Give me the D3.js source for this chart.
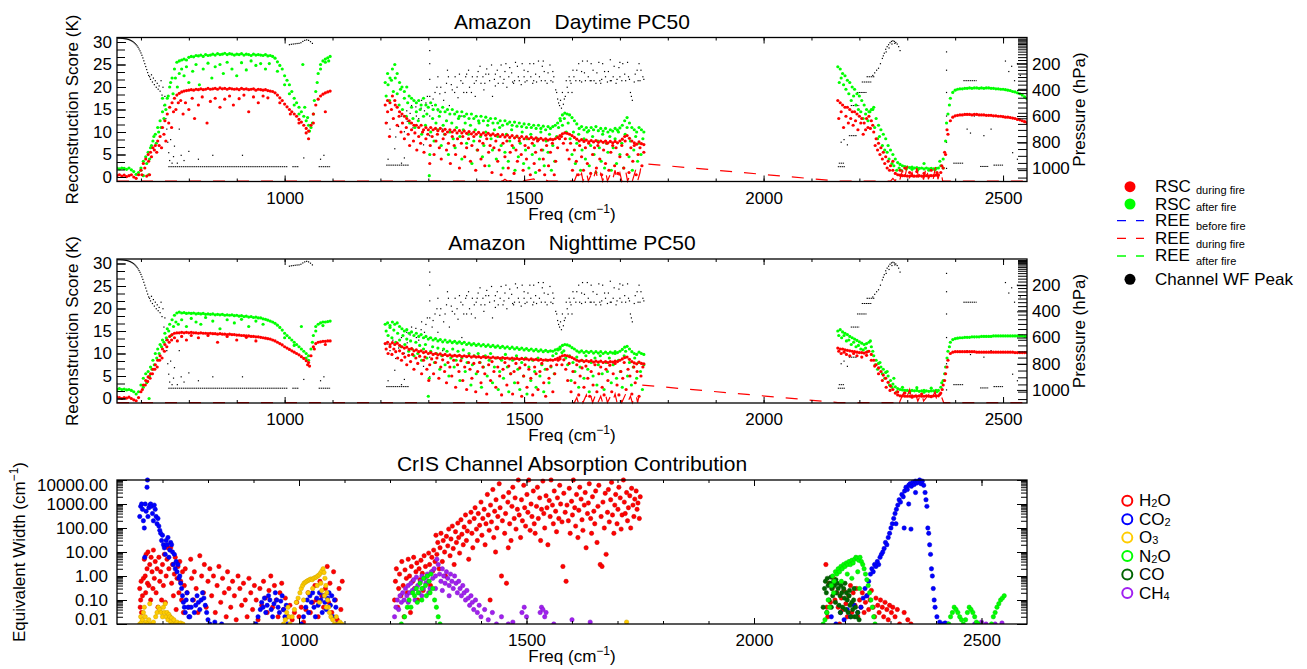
<!DOCTYPE html>
<html lang='en'>
<head>
<meta charset='UTF-8'>
<title>Amazon PC50 reconstruction</title>
<style>
  * { margin: 0; padding: 0; }
  body { background: #fff; }
  #chart { width: 1307px; height: 669px; }
  text { font-family: 'Liberation Sans', Arial, Helvetica, sans-serif; }
</style>
</head>
<body>
<div id='chart'></div>
<script src='https://cdn.jsdelivr.net/npm/d3@7'></script>
<script>
// ---- data: spectra on a 5 cm-1 grid per band ----
const bandStart = [650, 1210, 2155]
const gridStep = 5

const dayAfterLW = [2,1.8,2,1.9,1.7,2,1.6,1.2,0.6,1,
  2,3.5,4.5,5.5,6.5,8,9.5,11,12.5,14.5,
  16,17.5,20,22,24,25.5,25.8,26,26.2,26,
  26.6,26.8,26.7,27,26.9,27.1,26.8,27.2,27,27.1,
  27.3,27.1,27.4,27.2,27.3,27.5,27.2,27.4,27.3,27.1,
  27.3,27.2,27.4,27.1,27.3,27.2,27,27.3,27.1,27.2,
  27.1,27,27.2,26.9,27,26.8,26.4,25.6,24.8,24,
  22.5,21.5,20.5,19,17.5,16.5,15.5,14.5,13.5,12.5,
  11.5,11,14,19,23,25,25.8,26.2,26.5,26.8]
const dayAfterMW = [21,23,22,24,25,23,21,20,19,20,
  18,17.5,17,16.5,17,16,17.5,16,15.5,16.5,
  15,16,15,14.5,15.5,14.5,15,14,15,14,
  14.5,13.5,14.5,13.5,14,13,14,13,13.5,12.5,
  13.5,12.5,13.3,12.5,13,12,13,12,12.5,11.5,
  12.5,11.8,12.2,11.5,12.2,11.3,12,11.2,11.8,11,
  11.7,11,11.5,10.8,11.5,10.8,11.3,10.5,11.2,10.8,
  11.2,11.5,12,13,13.8,14.2,14,13.8,13.2,12.5,
  11.8,10.8,11.2,10.5,11,10.3,11,10.5,11.2,10.3,
  10.8,10.2,10.8,10,10.5,10.2,10.8,10.4,10.9,11.5,
  12.5,13.2,12,11,10.5,10,11,10.5,10]
const dayAfterSW = [24.5,24,23,22.5,21.5,21,20,19.5,18.5,18,
  17,16,15,14.5,15,15.5,13,11.5,10.5,9.5,
  8.5,7,6,5,4,3.2,2.8,2.5,2.3,2.2,
  2.1,2.2,2,2.1,1.9,2,1.8,2,1.8,1.9,
  1.8,1.9,2,2.5,4,8,14,17.5,18.8,19.3,
  19.5,19.6,19.6,19.7,19.7,19.8,19.7,19.8,19.8,19.7,
  19.8,19.7,19.8,19.8,19.7,19.7,19.6,19.6,19.5,19.5,
  19.4,19.3,19.2,19,18.9,18.7,18.5,18.2,17.8,17.4]
const dayDuringLW = [0.3,0.5,0.2,0.4,0.1,0.3,0.5,0,-0.3,0.5,
  1.5,3,4,5,5.5,6.5,7,8,9,11,
  12.5,14,15.5,16.5,17.5,18.2,18.6,18.9,19.1,19.2,
  19.3,19.4,19.3,19.5,19.4,19.6,19.4,19.5,19.7,19.5,
  19.6,19.7,19.5,19.8,19.6,19.7,19.5,19.7,19.6,19.5,
  19.6,19.4,19.7,19.5,19.6,19.4,19.5,19.6,19.3,19.5,
  19.4,19.3,19.4,19.2,19.1,19,18.7,18.2,17.6,17,
  16.2,15.6,15,14.5,14,13.5,12.8,12.2,11.5,10.8,
  10.2,11.5,14,16,17.3,18,18.4,18.7,18.9,19.1]
const dayDuringMW = [16,17,16.5,18,17,15.5,14.5,14,13.5,13,
  12.5,12,11.5,11.5,11,11.5,10.5,11,10.5,11,
  10.5,10.8,10.3,10.8,10.2,10.6,10,10.5,10,10.4,
  9.8,10.3,9.8,10.2,9.7,10.1,9.6,10,9.5,9.9,
  9.4,9.8,9.3,9.7,9.3,9.6,9.2,9.5,9,9.4,
  8.9,9.3,8.8,9.2,8.7,9.1,8.6,9,8.5,8.9,
  8.5,8.8,8.4,8.7,8.3,8.6,8.2,8.5,8.2,8.4,
  8.3,8.5,8.8,9.2,9.6,9.8,9.7,9.5,9.2,8.8,
  8.4,8,8.3,7.9,8.2,7.8,8.1,7.8,8.1,7.7,
  8,7.7,8,7.6,7.9,7.6,7.9,7.6,8,8.4,
  9,9.2,8.6,8,7.6,7.3,7.8,7.4,7.2]
const dayDuringSW = [17,16.5,16,15.5,15.5,15,14.5,14.5,14,13.5,
  13,12,13,13.5,12.5,10,8.5,7.5,6.5,5.5,
  4.5,3.5,2.5,1.5,0.8,0.5,0.4,0.3,0.3,0.2,
  0.2,0.3,0.2,0.2,0.3,0.2,0.2,0.3,0.2,0.3,
  0.3,0.4,0.5,1,2,5,9.5,12.5,13.3,13.6,
  13.7,13.8,13.8,13.9,13.9,13.9,13.8,13.9,13.9,13.8,
  13.8,13.8,13.7,13.7,13.7,13.6,13.6,13.5,13.5,13.4,
  13.3,13.3,13.2,13.1,13,12.8,12.7,12.5,12.3,12.1]

const nightAfterLW = [2,2.2,2,2.1,1.9,2,1.8,1.5,1,1.5,
  3,4.5,5.5,6,7,8.5,10,11,12,13,
  14.5,15.5,16.5,17.5,18.5,19,19.2,19,19.1,18.9,
  19,18.9,19,18.8,18.9,18.8,18.9,18.7,18.8,18.7,
  18.8,18.6,18.7,18.6,18.7,18.5,18.6,18.5,18.6,18.4,
  18.5,18.3,18.4,18.2,18.3,18.1,18.2,18,18.1,17.9,
  17.9,17.7,17.6,17.4,17.2,17,16.7,16.3,15.8,15.2,
  14.5,14,13.5,13,12.5,12,11.5,11,10.5,10,
  9.5,11,14,16,16.5,16.8,17,17,17.1,17.2]
const nightAfterMW = [16.5,16.8,16.2,17,16.5,16.8,16,15.5,15,15.3,
  14.5,14.8,14,14.5,13.8,14.2,13.5,13.8,13.2,13.5,
  13,13.3,12.8,13.1,12.6,13,12.5,12.8,12.4,12.7,
  12.3,12.6,12.2,12.5,12,12.3,11.9,12.2,11.8,12.1,
  11.7,12,11.6,11.9,11.5,11.8,11.4,11.7,11.3,11.6,
  11.2,11.5,11.1,11.4,11,11.3,10.9,11.2,10.8,11.1,
  10.7,11,10.6,10.9,10.5,10.8,10.4,10.7,10.4,10.6,
  10.5,10.8,11,11.4,11.8,12,11.9,11.7,11.3,11,
  10.6,10.3,10.6,10.2,10.5,10.2,10.5,10.1,10.4,10.1,
  10.4,10,10.3,10,10.3,10.1,10.4,10.2,10.5,10.9,
  11.4,11.6,11,10.4,10,9.8,10.3,10,9.8]
const nightAfterSW = [15,15.3,14.8,14.5,14.2,13.8,13.5,13.2,12.9,12.6,
  12.3,12,12.2,12.5,11.5,9.5,8.5,7.8,7,6.5,
  5.8,5,4,3.2,2.6,2.2,2,1.9,1.8,1.8,
  1.7,1.8,1.7,1.8,1.6,1.7,1.8,1.7,1.6,1.7,
  1.7,1.8,1.8,2.5,4,7,10.5,12.5,13.1,13.3,
  13.4,13.5,13.5,13.6,13.6,13.6,13.7,13.7,13.7,13.7,
  13.8,13.8,13.8,13.8,13.8,13.9,13.9,13.9,13.9,13.9,
  13.9,13.9,13.9,13.9,13.9,13.9,13.9,13.9,13.8,13.8]
const nightDuringLW = [0.3,0.2,0,0.2,0.1,0.3,0,-0.3,-0.5,0.2,
  1.5,3,4,4.8,5.5,6.5,7.5,8.5,9.5,11,
  12,13,13.8,14.2,14.5,14.6,14.6,14.7,14.6,14.7,
  14.6,14.7,14.6,14.6,14.5,14.6,14.5,14.5,14.4,14.5,
  14.4,14.4,14.3,14.4,14.3,14.3,14.2,14.3,14.2,14.2,
  14.1,14.1,14,14,13.9,13.9,13.8,13.8,13.7,13.7,
  13.6,13.5,13.4,13.3,13.2,13,12.8,12.5,12.2,11.9,
  11.5,11.2,10.9,10.6,10.3,10,9.7,9.3,8.9,8.4,
  8,9.5,11.5,12.2,12.5,12.6,12.7,12.7,12.8,12.8]
const nightDuringMW = [12.2,12.5,12,12.4,12,12.3,11.8,11.5,11.2,11.4,
  10.9,11.1,10.6,10.8,10.4,10.6,10.2,10.4,10,10.2,
  9.8,10,9.7,9.9,9.6,9.8,9.5,9.7,9.4,9.6,
  9.4,9.6,9.3,9.5,9.3,9.5,9.2,9.4,9.2,9.3,
  9.1,9.3,9.1,9.2,9,9.2,9,9.1,8.9,9.1,
  8.9,9,8.8,9,8.8,8.9,8.7,8.9,8.7,8.8,
  8.6,8.8,8.6,8.7,8.5,8.7,8.5,8.6,8.5,8.6,
  8.5,8.7,8.9,9.2,9.5,9.6,9.5,9.3,9.1,8.8,
  8.5,8.3,8.5,8.2,8.4,8.2,8.4,8.1,8.3,8.1,
  8.3,8,8.2,8,8.2,8.1,8.3,8.2,8.5,8.8,
  9.1,9.2,8.7,8.2,7.9,7.7,8.1,7.8,7.7]
const nightDuringSW = [11.2,11,11,10.8,10.7,10.6,10.5,10.4,10.3,10.2,
  10.2,10.1,10.3,10.5,9.8,8.5,7.5,6.8,6,5.2,
  4.5,3.6,2.8,2,1.2,0.8,0.6,0.6,0.5,0.5,
  0.5,0.6,0.5,0.5,0.6,0.5,0.5,0.6,0.5,0.5,
  0.6,0.6,0.6,1.2,3,5.5,8.5,10,10.3,10.4,
  10.4,10.4,10.4,10.4,10.4,10.4,10.4,10.4,10.3,10.3,
  10.3,10.3,10.3,10.3,10.3,10.3,10.3,10.3,10.3,10.3,
  10.3,10.3,10.3,10.3,10.2,10.2,10.2,10.2,10.2,10.2]

// ---- data: scattered channels below the main curves [freq, K] ----
const dayAfterScatter = [[700,1.5],[705,0.3],[712,3],[716,0.5],[718,4],[722,7],[727,9],[732,7.5],[737,10],[742,11],[745,17.5],[748,13],[752,15],[757,18],[762,21],[767,18.5],[772,22],[776,20],[780,23],[785,24],[790,22.5],[795,24.5],[800,21],[808,23.5],[815,25],[822,20.5],[830,24],[840,25.3],[848,22],[855,24.5],[865,25],[872,23],[880,25.5],[890,24],[900,22.5],[910,25.4],[920,23.8],[930,25.8],[940,24.8],[950,25.2],[960,24],[968,25.2],[985,23.5],[1000,20.5],[1010,18.5],[1020,16],[1030,14],[1038,25],[1042,15.5],[1048,13.2],[1052,10.2],[1058,12],[1062,17],[1068,21],[1075,24],[1085,25.5],[1092,25.8],
  [1212,18],[1216,20.5],[1219,17],[1223,21.5],[1227,19],[1231,22],[1235,18.5],[1239,16],[1242,19.5],[1246,15],[1250,17.5],[1254,13.5],[1257,16.5],[1261,12],[1265,15.5],[1268,13],[1272,11],[1275,14.5],[1279,12.5],[1283,15],[1286,9.5],[1290,13.5],[1294,11.5],[1297,14],[1302,0.3],[1303,5],[1305,10],[1309,13],[1312,8],[1316,12],[1320,10.5],[1323,13.5],[1327,7],[1331,11.5],[1334,9.5],[1338,12.5],[1342,5],[1345,10],[1349,12],[1352,8.5],[1356,6.5],[1359,11],[1363,13],[1366,9],[1370,4],[1373,10.5],[1377,12],[1380,7.5],[1384,9.5],[1388,11.5],[1391,3],[1395,8],[1398,10.5],[1402,6],[1406,12],[1409,9],[1413,4.5],[1416,7],[1420,10],[1424,11.5],[1427,2.5],[1431,8.5],[1434,6],[1438,10.5],[1442,4],[1445,9],[1449,11],[1452,7],[1456,2],[1460,5.5],[1463,9.5],[1467,3.5],[1470,8],[1474,10.5],[1478,6.5],[1481,1.5],[1485,9],[1488,4.5],[1492,7.5],[1496,10],[1499,3],[1503,6],[1506,8.5],[1510,2],[1514,9.5],[1517,5],[1521,7],[1524,1],[1528,8.5],[1532,4],[1535,10],[1539,6],[1542,2.5],[1546,8],[1550,5.5],[1553,9.5],[1557,1.5],[1560,7],[1564,3.5],[1568,9],[1572,11],[1576,12.5],[1580,11.5],[1584,13],[1588,10],[1592,12],[1596,8.5],[1600,5],[1603,10],[1607,3],[1610,7.5],[1614,9.5],[1618,1.5],[1621,6],[1625,8.5],[1628,4],[1632,10],[1636,2.5],[1639,7],[1643,9],[1646,5],[1650,1],[1654,8],[1657,6.5],[1661,3.5],[1664,9.5],[1668,2],[1672,7.5],[1675,5.5],[1679,9],[1682,1.5],[1686,6.5],[1690,8.5],[1693,3],[1697,10],[1700,5],[1704,7.5],[1708,2],[1711,9.5],[1715,11],[1719,4.5],[1722,8],[1726,1.5],[1729,6],[1733,9],[1737,3.5],[1740,7.5],[1744,5],[1748,8.5],
  [2158,21],[2162,22],[2167,20.5],[2172,19.5],[2178,18.5],[2183,17],[2188,18],[2193,16],[2198,15],[2203,14.5],[2208,13],[2213,14],[2218,12.5],[2222,14.5],[2228,15],[2232,11],[2238,8.5],[2242,9],[2248,7],[2253,6],[2258,5.5],[2262,4],[2268,3],[2272,2.5],[2278,1.5],[2283,2],[2288,1.5],[2298,1.8],[2310,1.7],[2322,1.6],[2335,3],[2345,1.5],[2358,1.6],[2368,3.5],[2375,2],[2382,12],[2388,16]]
const dayDuringScatter = [[702,0.5],[708,2],[712,0.2],[716,3.5],[718,0.5],[722,4.5],[728,6],[733,5.5],[738,7],[743,6.5],[748,9.5],[752,8],[758,12],[764,11],[768,14.5],[773,15],[778,16.5],[783,17],[788,14],[793,16.5],[800,15],[807,17.5],[812,13],[820,16],[828,17.8],[838,12],[845,16.8],[855,17.5],[865,15.5],[875,17.3],[885,18],[893,16],[905,17.4],[915,18.2],[925,14.5],[935,17.8],[945,16.5],[955,18],[965,17.6],[990,16.5],[1012,14],[1030,12],[1045,9.8],[1050,8.5],[1060,12],[1085,14.5],
  [1212,12],[1215,14.5],[1219,9],[1223,15],[1227,13],[1231,16],[1235,11.5],[1239,13.5],[1243,10],[1246,12],[1250,8.5],[1254,11],[1258,9.5],[1261,7],[1265,10.5],[1269,8],[1272,9.8],[1276,6],[1280,9],[1284,7.5],[1288,10],[1291,5.5],[1295,8.5],[1299,9.5],[1303,3],[1304,7],[1308,9],[1312,5],[1316,8],[1319,9.5],[1323,6.5],[1327,4],[1331,8.5],[1335,9.5],[1338,6],[1342,7.5],[1346,3],[1350,9],[1354,7],[1357,5],[1361,8.5],[1365,2],[1369,7.5],[1372,9],[1376,4.5],[1380,6.5],[1384,8.5],[1388,3.5],[1391,7],[1395,9],[1399,1.5],[1403,6],[1407,8],[1410,4],[1414,7.5],[1418,2.5],[1422,8.5],[1426,5.5],[1429,7],[1433,1],[1437,6.5],[1441,8],[1445,3.5],[1448,6],[1452,0.5],[1456,7.5],[1460,4.5],[1464,8],[1467,2],[1471,5.5],[1475,7],[1479,0.8],[1483,6],[1486,3.5],[1490,8],[1494,5],[1498,1.5],[1502,7],[1505,4],[1509,6.5],[1513,0.5],[1517,7.5],[1521,3],[1524,5.5],[1528,8],[1532,1.5],[1536,6],[1540,4],[1543,0.5],[1547,7],[1551,2.5],[1555,5.5],[1559,7.5],[1563,0.5],[1566,3.5],[1570,6.5],[1574,8.5],[1578,9],[1582,7.5],[1586,8.5],[1590,6],[1594,4],[1597,7.5],[1601,1.5],[1605,6],[1609,3.5],[1613,0.5],[1616,7],[1620,4.5],[1624,1.5],[1628,6.5],[1632,3],[1635,7.5],[1639,0.8],[1643,5],[1647,6.5],[1651,2],[1654,7],[1658,4],[1662,0.5],[1666,6],[1670,3],[1673,7.5],[1677,1.5],[1681,5.5],[1685,7],[1689,2.5],[1692,6.5],[1696,0.8],[1700,4.5],[1704,7],[1708,2],[1711,8],[1715,5],[1719,1],[1723,6.5],[1727,3.5],[1730,7],[1734,0.5],[1738,5],[1742,6.5],[1746,2.5],[1750,5.5],
  [2157,13],[2162,14.5],[2167,11],[2172,13.5],[2177,12],[2182,13],[2187,11.5],[2192,12.5],[2197,10.5],[2203,12],[2208,9.5],[2213,10.5],[2218,11],[2223,10.8],[2228,11.5],[2233,7],[2238,6],[2243,5],[2248,4],[2253,3],[2258,2],[2263,1.5],[2270,3.5],[2285,1.5],[2295,2],[2305,1],[2320,1.2],[2335,0.8],[2350,1.5],[2362,1],[2372,2.5],[2378,5.5],[2383,10.5]]
const nightAfterScatter = [[705,2.5],[712,3.5],[717,0],[718,5],[723,6.5],[728,7.5],[733,9],[738,10],[743,11.5],[748,12.5],[753,13.5],[758,15],[763,14],[768,16],[773,17],[778,16.5],[785,17.5],[795,16],[805,17.8],[815,17],[825,16.5],[835,18],[850,17.2],[865,15.5],[880,17.5],[895,16.8],[910,17.6],[925,16],[940,17.2],[955,16.5],[1000,13.5],[1020,11.8],[1035,16],[1045,9],[1050,8.5],[1058,12.5],[1065,15],[1080,16.2],
  [1212,15],[1216,14],[1220,15.8],[1224,13.5],[1228,15.2],[1232,12.5],[1236,14.5],[1240,13],[1243,11.5],[1247,14],[1251,12],[1255,13.2],[1259,10.5],[1263,12.8],[1266,11],[1270,9.5],[1274,12.5],[1278,10],[1282,11.8],[1286,8.5],[1290,11],[1294,12],[1297,9],[1300,0.5],[1302,4.5],[1305,10.5],[1309,11.5],[1313,8],[1317,10],[1320,11.2],[1324,6.5],[1328,9.5],[1332,11],[1335,7.5],[1339,10.5],[1343,5],[1347,9],[1351,11],[1354,7],[1358,8.5],[1362,10.5],[1366,4],[1370,9],[1373,10.8],[1377,6],[1381,8],[1385,10],[1389,3],[1392,7.5],[1396,9.5],[1400,5.5],[1404,10],[1408,8],[1411,2.5],[1415,7],[1419,9.5],[1423,5],[1427,8.5],[1430,10],[1434,3.5],[1438,7],[1442,9],[1446,2],[1449,6],[1453,8.5],[1457,4.5],[1461,9.8],[1465,7],[1468,1.5],[1472,5.5],[1476,8.5],[1480,3.5],[1484,9.5],[1487,6.5],[1491,2],[1495,8],[1499,5],[1503,9],[1506,1],[1510,7],[1514,4],[1518,8.5],[1522,6],[1525,2.5],[1529,9],[1533,5],[1537,7.5],[1541,1.5],[1544,6.5],[1548,8.5],[1552,3.5],[1556,7],[1560,9.5],[1563,5.5],[1567,10],[1571,10.8],[1575,11],[1579,10.2],[1583,10.6],[1587,9],[1591,7.5],[1595,9.5],[1598,4],[1602,8],[1606,6],[1610,9.2],[1614,2.5],[1617,7],[1621,8.5],[1625,4.5],[1629,9.5],[1633,6.5],[1636,1.5],[1640,8],[1644,5],[1648,9],[1652,3],[1655,7.5],[1659,9.5],[1663,5.5],[1667,2],[1671,8],[1674,6],[1678,9],[1682,3.5],[1686,7.5],[1690,10],[1693,4.5],[1697,8.5],[1701,6],[1705,2.5],[1709,9.5],[1712,10.5],[1716,5],[1720,8],[1724,3],[1728,7],[1731,9],[1735,4.5],[1739,8],[1743,6],[1747,2],[1750,7.5],
  [2157,14],[2163,13.5],[2168,14],[2173,12.8],[2178,13],[2183,12],[2188,12.5],[2193,11.5],[2198,11.8],[2203,11],[2208,10.8],[2213,11.2],[2218,10.5],[2223,12.8],[2228,10.5],[2233,7.5],[2238,6.5],[2243,8],[2248,5.5],[2253,4.5],[2258,6],[2263,3],[2268,2.5],[2272,4.5],[2278,1.5],[2290,2.5],[2305,1.3],[2320,2.4],[2335,1.4],[2350,2.3],[2362,1.5],[2372,3.5],[2378,5.5],[2383,9],[2388,11.5]]
const nightDuringScatter = [[703,2],[709,3],[714,3.8],[719,4.5],[724,5.5],[729,6.5],[734,7],[739,8.5],[744,9],[749,10.5],[754,11.5],[759,12.5],[764,13],[770,13.5],[776,12.8],[785,13.8],[795,13],[805,14],[820,13.5],[840,14],[860,12.5],[880,13.8],[900,13],[920,13.6],[940,12.8],[1048,7.5],[1052,7.2],[1062,11],[1085,12],
  [1212,11],[1216,10],[1220,11.5],[1224,9.8],[1228,11],[1232,10.4],[1236,9],[1240,10.6],[1244,8.5],[1247,10],[1251,9.2],[1255,7.5],[1259,9.6],[1263,8.2],[1267,9.8],[1270,6.5],[1274,9],[1278,7.8],[1282,9.4],[1286,5.5],[1290,8.5],[1293,9.2],[1297,6.5],[1301,4],[1303,7.5],[1307,8.8],[1311,5.5],[1315,8],[1318,9],[1322,4.5],[1326,7],[1330,8.6],[1334,6],[1338,3.5],[1341,8],[1345,7],[1349,5],[1353,8.5],[1357,2.5],[1361,7.5],[1364,6],[1368,8.4],[1372,4],[1376,7],[1380,2],[1384,8],[1387,6.5],[1391,4.5],[1395,7.8],[1399,1.5],[1403,6],[1407,8],[1410,3.5],[1414,7],[1418,5.5],[1422,1],[1426,7.5],[1430,4],[1433,8.2],[1437,6],[1441,2.5],[1445,7],[1449,5],[1453,0.8],[1456,6.5],[1460,8],[1464,3],[1468,7.2],[1472,5.5],[1476,1],[1479,6],[1483,7.8],[1487,3.5],[1491,6.8],[1495,0.5],[1499,5],[1502,7.5],[1506,2.5],[1510,6.5],[1514,4.5],[1518,0.8],[1522,7],[1525,5.5],[1529,2],[1533,6],[1537,7.8],[1541,3.5],[1545,0.5],[1548,6.5],[1552,4.5],[1556,7.2],[1560,1.5],[1564,5.5],[1568,7.5],[1571,8.5],[1575,8.8],[1579,7.5],[1583,8.6],[1587,6.5],[1591,4],[1594,7.8],[1598,1.5],[1602,6],[1606,3.5],[1610,7.5],[1614,0.8],[1617,5],[1621,6.8],[1625,2.5],[1629,7.2],[1633,4.5],[1637,0.5],[1640,6],[1644,3],[1648,7.5],[1652,1.5],[1656,5.5],[1660,7],[1663,2.5],[1667,0.8],[1671,6.5],[1675,4],[1679,7.4],[1683,1.5],[1686,5.5],[1690,7.8],[1694,3],[1698,0.8],[1702,6],[1706,4.5],[1709,8],[1713,2],[1717,6.5],[1721,5],[1725,1],[1729,7],[1732,3.5],[1736,6],[1740,0.5],[1744,5],[1748,7],
  [2157,10.5],[2162,10],[2168,10.3],[2173,9.8],[2180,9.5],[2188,10],[2195,9.5],[2205,9.2],[2215,9.6],[2225,8.5],[2232,7.2],[2240,5.5],[2248,4],[2256,2.5],[2264,1.8],[2280,1.5],[2295,1.2],[2310,0.3],[2330,1],[2350,0.4],[2368,0.9],[2373,2],[2378,4],[2383,7]]

// ---- data: REE during fire (dashed) [freq, K] ----
const dayREE = [[650,-0.9],[1095,-0.9],[1210,-0.9],[1455,-0.9],[1460,-0.5],[1465,-0.9],[1490,-0.6],[1495,-0.9],[1520,-0.4],[1525,-0.9],[1545,-0.6],[1550,-0.9],[1605,-0.9],[1610,0.5],[1613,-0.9],[1620,0.8],[1623,-0.9],[1630,1.2],[1634,-0.9],[1640,0.5],[1643,-0.9],[1650,1.5],[1654,-0.9],[1660,0.8],[1664,-0.9],[1670,1.3],[1674,-0.9],[1680,0.6],[1684,-0.9],[1690,1.5],[1694,-0.9],[1700,0.9],[1704,-0.9],[1712,1.4],[1716,-0.9],[1722,0.7],[1726,-0.9],[1733,1.6],[1737,-0.9],[1742,1],[1745,3],[2155,-0.9],[2265,-0.9],[2270,-0.3],[2275,-0.9],[2280,0.5],[2284,-0.8],[2290,1.5],[2294,-0.6],[2300,2.5],[2303,-0.5],[2310,1],[2314,-0.6],[2320,2],[2324,-0.5],[2330,0.8],[2334,-0.6],[2340,2.5],[2344,-0.5],[2350,1.2],[2354,-0.6],[2360,3],[2364,-0.5],[2370,1.5],[2374,-0.9],[2550,-0.9]]
const nightREE = [[650,-0.9],[1095,-0.9],[1210,-0.9],[1605,-0.9],[1610,0.2],[1613,-0.9],[1620,0.5],[1623,-0.9],[1630,0.8],[1634,-0.9],[1640,0.3],[1643,-0.9],[1650,1],[1654,-0.9],[1660,0.5],[1664,-0.9],[1670,0.9],[1674,-0.9],[1680,0.4],[1684,-0.9],[1690,1],[1694,-0.9],[1700,0.6],[1704,-0.9],[1712,1],[1716,-0.9],[1722,0.5],[1726,-0.9],[1733,1.1],[1737,-0.9],[1745,3],[2155,-0.9],[2275,-0.9],[2280,0.2],[2284,-0.8],[2292,1.2],[2296,-0.6],[2305,2],[2309,-0.5],[2318,0.8],[2322,-0.6],[2330,1.4],[2334,-0.6],[2345,0.9],[2349,-0.6],[2358,1.5],[2362,-0.5],[2370,0.8],[2376,-0.9],[2550,-0.9]]

// ---- data: channel weighting-function peak [freq, hPa] ----
const wfPeak = [[650,5],[652,5],[654,6],[656,6],[658,6],[660,7],[662,7],[664,8],[666,9],[668,10],[670,11],[672,13],[674,15],[676,18],[678,21],[680,25],[682,29],[684,34],[686,40],[688,47],[690,55],[692,64],[694,75],[696,88],[698,102],[700,118],[702,136],[704,156],[706,178],[708,200],[710,222],[712,245],[714,268],[716,290],[718,300],[720,320],[722,285],[724,340],[726,310],[728,360],[730,330],[732,380],[734,350],[736,395],[738,370],[740,410],[742,330],[744,440],[746,380],[748,520],[750,450],[752,620],[754,700],[756,800],[758,880],[760,940],[762,780],[765,960],[768,910],[770,830],[776,960],[780,700],[784,900],[790,940],[800,870],[820,930],[850,900],[912,900],[1040,920],[1075,930],[1082,900],
  [1010,55],[1014,52],[1018,50],[1022,48],[1026,46],[1030,45],[1034,40],[1038,30],[1042,22],[1046,18],[1050,22],[1054,32],[1058,45],
  [1214,650],[1220,700],[1226,620],[1232,760],[1238,680],[1244,600],[1250,720],[1256,640],[1262,580],[1268,690],[1274,530],[1280,620],[1286,480],[1292,560],[1298,450],[1303,100],[1303,200],[1303,320],[1303,450],[1303,600],[1303,750],[1303,900],[1308,520],[1314,420],[1320,560],[1326,380],[1332,480],[1338,350],[1344,520],[1350,400],[1356,300],[1362,460],[1368,330],[1374,420],[1380,280],[1386,380],[1392,300],[1398,450],[1404,260],[1410,350],[1416,400],[1422,240],[1428,330],[1434,450],[1440,280],[1446,350],[1452,210],[1458,320],[1464,380],[1470,230],[1476,340],[1482,190],[1488,300],[1494,360],[1500,250],[1506,330],[1512,200],[1518,350],[1524,280],[1530,180],[1536,330],[1542,260],[1548,350],[1554,210],[1560,340],[1566,400],[1570,470],[1574,520],[1578,540],[1582,510],[1586,450],[1590,380],[1594,300],[1598,350],[1602,250],[1608,330],[1614,200],[1620,340],[1626,270],[1632,180],[1638,330],[1644,250],[1650,350],[1656,190],[1662,320],[1668,260],[1674,340],[1680,170],[1686,300],[1692,350],[1698,230],[1704,330],[1710,280],[1716,190],[1722,420],[1726,480],[1730,340],[1736,250],[1742,330],[1748,300],
  [1320,300],[1340,250],[1360,380],[1380,420],[1400,330],[1420,280],[1440,370],[1460,260],[1480,330],[1500,300],[1520,330],[1540,180],[1560,260],[1580,420],[1600,420],[1620,260],[1640,330],[1660,350],[1680,330],[1700,190],[1720,320],[1740,200],[1250,920],[1290,820],[1330,700],[1370,600],[1216,930],[1230,850],[1244,960],
  [1255,560],[1265,520],[1275,600],[1285,540],[1295,500],[1310,470],[1318,380],[1324,430],[1335,420],[1342,300],[1348,360],[1355,420],[1365,280],[1372,350],[1378,300],[1384,250],[1390,420],[1396,350],[1402,300],[1408,220],[1414,300],[1418,350],[1426,280],[1432,210],[1438,320],[1444,250],[1450,300],[1456,350],[1462,200],[1468,300],[1474,270],[1478,350],[1486,220],[1490,330],[1496,200],[1502,340],[1508,260],[1514,300],[1520,200],[1526,340],[1532,300],[1538,220],[1544,330],[1550,270],[1556,330],[1562,300],[1568,420],[1572,500],[1576,480],[1584,470],[1588,330],[1592,420],[1596,330],[1604,300],[1610,250],[1616,330],[1622,180],[1628,330],[1634,300],[1640,200],[1646,330],[1652,270],[1658,330],[1664,200],[1670,300],[1676,260],[1682,330],[1688,220],[1694,320],[1700,300],[1706,200],[1712,330],[1718,300],[1724,450],[1732,280],[1738,330],[1744,250],[1750,320],
  [2162,800],[2168,780],[2175,820],[2228,290],[2232,270],[2236,250],[2240,235],[2244,200],[2248,160],[2252,120],[2255,90],[2258,70],[2261,55],[2264,40],[2267,30],[2270,25],[2273,30],[2276,38],[2279,50],[2282,70],[2285,100],[2250,140],[2256,110],[2262,80],[2268,50],[2274,45],
  [2382,110],[2382,250],[2382,420],[2382,600],[2382,800],[2382,1000],[2425,700],[2432,730],[2440,600],[2460,750],[2475,700],[2505,180],[2512,260],[2518,220],[2524,330],[2530,200],[2536,290],[2520,880],[2530,930]]
// flat runs of channels sharing one peak level [freqStart, freqEnd, hPa]
const wfRuns = [[757,1006,987],[1016,1030,987],[1071,1095,987],[1212,1260,975],[2155,2170,987],[2157,2168,960],[2178,2195,750],[2182,2200,520],[2195,2215,420],[2205,2225,340],[2215,2232,300],[2396,2417,960],[2417,2445,330],[2452,2470,985],[2480,2500,975]]
const pressureMinor = [8,15,22,30,40,50,62,75,90,108,128,150,172,197,222,248,275,302,330,360,392,425,460,496,535,575,617,660,706,753,802,852,904,958,1013,1070]

// ---- data: absorption contribution, equivalent width [freq, cm-1] ----
const h2o = [[650,0.3],[651,0.05],[652,0.1],[653,0.6],[654,0.03],[656,0.15],[658,0.8],[660,5],[662,1],[663,0.2],[664,8],[666,2],[667,0.5],[668,10],[670,0.4],[672,3],[674,0.1],[675,6],[677,1.5],[679,0.3],[680,12],[682,0.8],[684,4],[686,0.2],[688,2],[690,0.05],[692,6],[694,0.6],[696,1.5],[698,0.1],[700,3],[702,0.4],[704,8],[706,0.08],[708,1],[710,5],[712,15],[714,2],[716,0.02],[718,15],[720,0.5],[722,3],[724,0.15],[726,1.2],[728,6],[730,0.04],[732,0.8],[734,2.5],[736,0.2],[738,4],[740,0.6],[742,0.1],[744,1.5],[746,0.03],[748,0.4],[750,2],[754,0.2],[758,0.05],[762,5],[764,0.8],[768,0.1],[770,1.5],[774,0.3],[778,0.03],[782,7],[786,1],[790,0.2],[792,3],[796,0.05],[800,0.6],[804,2],[808,0.15],[812,1],[816,0.03],[820,0.4],[824,2.5],[828,0.08],[832,0.8],[836,0.2],[840,0.02],[843,1.5],[846,0.3],[850,0.05],[854,0.6],[858,0.15],[862,0.015],[866,1],[870,0.3],[874,0.06],[878,0.5],[882,0.1],[886,0.02],[890,0.8],[894,0.2],[898,0.04],[902,0.4],[906,0.1],[910,0.015],[914,0.3],[918,0.06],[922,0.6],[926,0.12],[930,0.03],[934,0.25],[938,1],[942,0.05],[946,0.4],[950,0.1],[954,0.02],[958,0.2],[962,0.5],[966,0.04],[970,0.12],[975,0.02],[980,0.06],[985,0.015],[990,0.03],[995,0.08],[1000,0.02],[1005,0.05],[1010,0.012],[1015,0.04],[1020,0.2],[1025,0.03],[1030,0.08],[1035,0.4],[1038,0.1],[1042,0.02],[1046,0.6],[1050,0.15],[1054,0.05],[1058,0.3],[1062,2.5],[1065,0.08],[1068,0.5],[1072,0.03],[1076,1.5],[1080,0.1],[1084,0.015],[1088,0.3],[1092,0.04],[1095,0.6],
  [1210,0.1],[1212,0.6],[1214,2],[1217,0.05],[1219,0.3],[1221,1.2],[1224,0.15],[1226,4],[1229,0.4],[1231,0.02],[1233,1.8],[1236,0.8],[1238,0.2],[1240,5],[1243,1],[1245,0.03],[1247,2.5],[1250,0.6],[1252,6],[1254,0.3],[1257,1.5],[1259,3.5],[1261,0.1],[1264,2],[1266,0.7],[1268,4.5],[1271,1.3],[1273,0.25],[1275,7],[1278,2.5],[1280,0.5],[1282,1],[1285,9],[1287,3],[1289,0.4],[1292,6],[1294,1.6],[1296,12],[1299,4],
  [1301,50],[1303,8],[1305,25],[1308,2],[1310,15],[1312,60],[1315,4],[1317,30],[1320,10],[1322,1],[1324,45],[1327,18],[1329,90],[1332,7],[1334,35],[1337,120],[1339,14],[1341,3],[1344,70],[1346,25],[1349,160],[1351,40],[1353,9],[1356,220],[1358,55],[1361,20],[1363,110],[1366,350],[1368,30],[1370,75],[1373,5],[1375,180],[1378,450],[1380,60],[1382,15],[1385,250],[1387,700],[1390,90],[1392,30],[1394,400],[1397,130],
  [1400,1200],[1402,50],[1404,250],[1407,600],[1409,20],[1411,150],[1414,2500],[1416,350],[1418,80],[1421,900],[1423,180],[1426,4000],[1428,40],[1430,500],[1433,1500],[1435,100],[1437,300],[1440,7000],[1442,700],[1445,1],[1447,200],[1449,2000],[1452,60],[1454,400],[1456,0.5],[1459,1200],[1461,3000],[1463,150],[1466,30],[1468,800],[1470,5000],[1473,250],[1475,1800],[1477,90],[1480,600],[1482,10000],[1484,350],[1487,40],[1489,1500],[1491,200],[1494,6000],[1496,700],[1498,120],[1501,2500],[1503,450],[1505,10000],[1508,80],[1510,1000],[1512,300],[1515,3500],[1517,150],[1519,60],[1522,800],[1524,5000],[1526,250],[1529,1800],[1531,30],[1533,600],[1536,9000],[1538,400],[1540,100],[1543,2200],[1545,700],[1547,20],[1550,1400],[1552,300],[1554,10000],[1557,900],[1559,150],[1561,3500],[1564,500],[1566,70],[1568,1800],[1571,250],[1573,6000],[1575,1000],[1578,180],[1580,2.5],[1582,2800],[1585,450],[1587,0.6],[1589,900],[1592,200],[1594,4500],[1596,60],[1599,1300],[1601,350],[1603,10000],[1606,700],[1608,120],[1610,2500],[1613,40],[1615,550],[1617,5000],[1620,1600],[1622,220],[1624,80],[1627,900],[1629,3000],[1631,15],[1634,400],[1636,1100],[1638,7000],[1641,250],[1643,60],[1645,2000],[1648,500],[1650,150],[1652,3500],[1655,25],[1657,800],[1659,6000],[1662,3],[1664,300],[1666,2.5],[1668,1200],[1671,100],[1673,2800],[1675,8],[1678,450],[1680,4000],[1682,180],[1685,1500],[1687,8000],[1689,350],[1692,60],[1694,900],[1696,2500],[1699,150],[1701,600],[1703,5000],[1706,1800],[1708,90],[1710,350],[1713,10000],[1715,1200],[1717,400],[1720,3000],[1722,200],[1724,700],[1727,2200],[1729,100],[1731,4500],[1734,900],[1736,300],[1738,1600],[1741,3500],[1743,600],[1745,1100],[1748,250],[1750,2000],[1420,0.1],[1432,10],[1460,15],
  [2158,3],[2160,0.05],[2162,0.02],[2165,0.5],[2168,0.08],[2172,0.3],[2175,0.8],[2178,0.1],[2182,0.2],[2185,0.05],[2188,0.01],[2192,0.12],[2195,0.04],[2198,0.25],[2202,0.07],[2205,0.02],[2208,0.15],[2212,0.4],[2215,0.03],[2218,0.2],[2222,0.06],[2225,0.3],[2228,0.02],[2232,0.1],[2235,0.05],[2238,0.2],[2242,0.03],[2245,0.08],[2248,0.15],[2252,0.04],[2255,0.1],[2258,0.25],[2262,0.05],[2265,0.02],[2268,0.12],[2272,0.06],[2275,0.03],[2278,0.1],[2282,0.05],[2285,0.02],[2288,0.08],[2292,0.04],[2295,0.015],[2298,0.06],[2302,0.03],[2305,0.05],[2310,0.02],[2315,0.04],[2320,0.01],[2330,0.03],[2338,0.015],[2345,0.01]]
const co2 = [[650,300],[652,800],[654,1000],[656,600],[658,200],[660,100],[661,6],[662,1000],[664,500],[666,5000],[667,10000],[668,300],[670,700],[672,900],[674,1000],[676,800],[678,400],[680,200],[682,900],[684,600],[686,300],[688,150],[690,250],[692,120],[694,80],[696,60],[698,30],[700,50],[702,20],[704,15],[706,8],[708,30],[710,20],[712,40],[714,6],[716,12],[718,25],[720,20],[722,10],[724,3],[726,8],[728,2],[730,4],[732,1.5],[734,3],[736,0.8],[738,1],[740,0.5],[742,0.3],[744,0.15],[746,0.08],[748,0.05],[750,0.03],[752,0.1],[754,0.2],[756,0.05],[758,0.02],
  [760,0.02],[763,0.05],[766,0.1],[770,0.03],[773,0.06],[776,0.15],[779,0.08],[782,0.04],[785,0.1],[788,0.2],[791,0.12],[794,0.06],[797,0.03],[800,0.015],[804,0.01],[815,0.012],[830,0.01],
  [905,0.01],[910,0.02],[915,0.04],[918,0.08],[921,0.05],[924,0.12],[927,0.03],[930,0.06],[933,0.15],[936,0.1],[939,0.04],[942,0.02],[945,0.07],[948,0.2],[951,0.1],[954,0.05],[957,0.03],[960,0.09],[963,0.15],[966,0.04],[969,0.02],[972,0.06],[975,0.01],[1005,0.01],[1010,0.02],[1015,0.05],[1018,0.1],[1021,0.03],[1024,0.15],[1027,0.08],[1030,0.2],[1033,0.05],[1036,0.02],[1039,0.12],[1042,0.06],[1045,0.2],[1048,0.1],[1051,0.03],[1054,0.15],[1057,0.08],[1060,0.04],[1063,0.12],[1066,0.2],[1069,0.06],[1072,0.15],[1075,0.02],[1078,0.1],[1081,0.05],[1084,0.01],
  [2170,0.02],[2180,0.01],[2190,0.03],[2198,0.015],[2205,0.04],[2212,0.02],[2220,0.06],[2228,0.03],[2235,0.05],[2240,0.12],[2244,0.3],[2248,0.15],[2252,0.6],[2256,1.2],[2259,2],[2262,1.5],[2265,3],[2268,2.5],[2271,4],[2274,3],[2277,6],[2280,8],[2283,10],[2286,14],[2289,25],[2292,20],[2295,40],[2298,60],[2301,100],[2304,150],[2307,250],[2310,400],[2313,600],[2316,900],[2319,1500],[2322,1200],[2325,2500],[2328,2000],[2331,3500],[2334,5000],[2337,4000],[2340,6000],[2343,7000],[2346,5500],[2349,8000],[2352,6500],[2355,9000],[2358,7500],[2361,8500],[2364,10000],[2367,7000],[2370,9000],[2373,6000],[2376,3000],[2378,1500],[2380,800],[2382,100],[2384,60],[2386,20],[2388,8],[2390,2],[2392,1],[2394,0.3],[2396,0.1],[2398,0.05],[2402,0.02],[2408,0.012],[2414,0.01],[2420,0.011],[2426,0.01],[2312,150],[2330,100],[2345,90],[2355,3000],[2340,1000]]
const o3 = [[650,0.01],[652,0.02],[654,0.012],[656,0.015],[658,0.03],[660,0.05],[662,0.02],[664,0.012],[667,0.01],[670,0.015],[672,0.07],[675,0.01],[680,0.012],[685,0.02],[688,0.03],[691,0.05],[694,0.04],[697,0.03],[700,0.02],[702,0.05],[704,0.03],[706,0.07],[708,0.02],[710,0.03],[712,0.015],[714,0.025],[716,0.02],[718,0.012],[720,0.018],[722,0.01],[725,0.015],[728,0.01],[732,0.012],[736,0.01],[740,0.011],[745,0.01],
  [966,0.01],[970,0.015],[973,0.03],[976,0.05],[978,0.02],[980,0.01],[985,0.02],[990,0.04],[994,0.08],[998,0.12],[1002,0.2],[1005,0.3],[1008,0.4],[1011,0.5],[1014,0.55],[1017,0.6],[1020,0.65],[1023,0.7],[1026,0.75],[1029,0.7],[1032,0.8],[1035,0.85],[1038,0.9],[1041,1],[1044,1.1],[1047,1.3],[1050,1.6],[1053,2],[1055,1.4],[1057,0.8],[1059,0.4],[1061,0.2],[1063,0.1],[1065,0.05],[1067,0.03],[1070,0.02],[1074,0.015],[1078,0.01],[1082,0.02],[1086,0.01],[1090,0.012],[1094,0.01],[1010,0.1],[1020,0.2],[1030,0.3],[1040,0.4],[1048,0.5],[1056,0.15],[1060,0.05],[1050,0.25],[1045,0.08],[1720,0.012]]
const n2o = [[1225,0.01],[1232,0.02],[1238,0.05],[1242,0.1],[1246,0.05],[1250,0.2],[1254,0.15],[1258,0.3],[1262,0.2],[1266,0.5],[1270,0.3],[1274,0.8],[1278,0.4],[1282,1],[1286,0.6],[1290,1.2],[1294,0.3],[1298,0.1],[1302,0.05],[1306,0.02],[1310,0.01],[1260,0.08],[1270,0.1],[1280,0.15],[1288,0.2],
  [2152,0.01],[2156,0.015],[2160,0.03],[2163,0.1],[2166,0.05],[2170,0.4],[2173,1],[2176,0.6],[2179,1.5],[2182,1.2],[2185,2],[2188,1.5],[2191,2.5],[2194,2],[2197,3],[2200,2.5],[2203,3.5],[2206,3],[2209,4],[2212,3],[2215,4.5],[2218,3.5],[2221,5],[2224,6],[2227,5.5],[2230,4.5],[2233,6],[2236,4],[2239,3],[2242,2],[2245,1.2],[2248,0.7],[2251,0.4],[2254,0.2],[2257,0.1],[2260,0.05],[2263,0.02],[2266,0.01],[2175,0.2],[2192,0.6],[2205,1.2],[2215,0.8],[2228,1.5],[2232,0.3],
  [2428,0.01],[2432,0.02],[2436,0.03],[2440,0.05],[2444,0.04],[2448,0.03],[2452,0.02],[2456,0.015],[2460,0.01],[2465,0.015],[2469,0.03],[2473,0.05],[2477,0.04],[2481,0.03],[2485,0.02],[2489,0.012],[2493,0.01],[2522,0.01],[2526,0.02],[2530,0.03],[2534,0.05],[2538,0.07],[2542,0.1],[2546,0.12],[2550,0.15]]
const co = [[2152,0.05],[2155,0.3],[2157,0.6],[2159,0.2],[2161,0.8],[2163,0.4],[2165,0.1],[2167,0.5],[2169,0.9],[2171,0.3],[2173,0.15],[2175,0.6],[2177,0.4],[2179,0.08],[2181,0.2],[2183,0.5],[2185,0.3],[2187,0.06],[2189,0.15],[2191,0.4],[2193,0.2],[2195,0.05],[2197,0.3],[2199,0.12],[2201,0.04],[2203,0.2],[2205,0.1],[2207,0.03],[2209,0.15],[2211,0.06],[2213,0.02],[2215,0.08],[2217,0.04],[2219,0.1],[2221,0.02],[2223,0.05],[2225,0.02],[2228,0.03],[2231,0.015],[2160,0.03],[2170,0.05],[2180,0.7],[2190,0.03],[2200,0.5],[2210,0.25],[2220,0.3]]
const ch4 = [[1210,0.02],[1213,0.05],[1216,0.1],[1219,0.04],[1222,0.15],[1225,0.08],[1228,0.2],[1231,0.1],[1234,0.3],[1237,0.15],[1240,0.4],[1243,0.2],[1246,0.5],[1249,0.25],[1252,0.7],[1255,0.3],[1258,0.9],[1261,0.4],[1264,0.2],[1267,0.6],[1270,1],[1273,0.3],[1276,0.8],[1279,0.5],[1282,1.2],[1285,0.6],[1288,0.3],[1291,1.5],[1294,0.8],[1297,2],[1300,1],[1303,5],[1306,3],[1309,1.2],[1312,0.6],[1315,2],[1318,1],[1321,0.5],[1324,1.5],[1327,0.8],[1330,0.4],[1333,1.2],[1336,0.6],[1339,0.3],[1342,1],[1345,0.5],[1348,0.2],[1351,0.6],[1354,0.3],[1357,0.15],[1360,0.4],[1363,0.2],[1366,0.1],[1369,0.25],[1372,0.12],[1375,0.06],[1378,0.15],[1381,0.08],[1384,0.04],[1388,0.1],[1392,0.03],[1396,0.06],[1400,0.02],[1408,0.04],[1416,0.015],[1425,0.03],[1434,0.01],[1445,0.02],[1460,0.01],[1470,0.012],[1490,0.03],[1495,0.05],[1500,0.02],[1530,0.03],[1533,0.05],[1536,0.04],[1540,0.02],[1543,0.03],[1560,0.01],[1600,0.015],[1640,0.012],[1240,0.08],[1255,0.1],[1270,0.15],[1285,0.2],[1300,0.3],[1315,0.25],[1330,0.15],
  [2485,0.01],[2500,0.012],[2510,0.01],[2530,0.01],[2545,0.011]]

const gases = [
  {name: 'H2O', parts: ['H', '2', 'O'], color: '#ff0000', data: h2o},
  {name: 'CO2', parts: ['CO', '2', ''], color: '#0000ff', data: co2},
  {name: 'O3', parts: ['O', '3', ''], color: '#ffcc00', data: o3},
  {name: 'N2O', parts: ['N', '2', 'O'], color: '#00ff00', data: n2o},
  {name: 'CO', parts: ['CO', '', ''], color: '#006400', data: co},
  {name: 'CH4', parts: ['CH', '4', ''], color: '#a020f0', data: ch4}
]
const drawOrder = ['H2O', 'CH4', 'CO2', 'O3', 'CO', 'N2O']

// ---- layout ----
const left = 117, right = 1027, ph = 144
const FONT = 17
const svg = d3.select('#chart').append('svg')
  .attr('width', 1307).attr('height', 669)
svg.append('rect').attr('width', 1307).attr('height', 669).attr('fill', '#fff')

const xTop = d3.scaleLinear().domain([650, 2550]).range([left, right])
const xBot = d3.scaleLinear().domain([600, 2600]).range([left, right])

function toPairs (vals, start) {
  return vals.map((v, i) => [start + gridStep * i, v])
}

function styleAxis (g) {
  g.select('.domain').remove()
  g.attr('font-size', FONT).attr('font-family', "'Liberation Sans', Arial, Helvetica, sans-serif")
  g.selectAll('line').attr('stroke', '#000')
  g.selectAll('text').attr('fill', '#000')
}

function xAxes (x, top, minors) {
  const bottom = top + ph
  svg.append('g').attr('transform', `translate(0,${bottom})`)
    .call(d3.axisBottom(x).tickValues(minors).tickSize(-3).tickFormat('')).call(styleAxis)
  svg.append('g').attr('transform', `translate(0,${bottom})`)
    .call(d3.axisBottom(x).tickValues([1000, 1500, 2000, 2500]).tickSize(-6).tickPadding(10).tickFormat(d3.format('d'))).call(styleAxis)
  svg.append('g').attr('transform', `translate(0,${top})`)
    .call(d3.axisTop(x).tickValues(minors).tickSize(-3).tickFormat('')).call(styleAxis)
  svg.append('g').attr('transform', `translate(0,${top})`)
    .call(d3.axisTop(x).tickValues([1000, 1500, 2000, 2500]).tickSize(-6).tickFormat('')).call(styleAxis)
  // axis title
  const t = svg.append('text').attr('x', (left + right) / 2).attr('y', bottom + 38)
    .attr('text-anchor', 'middle').attr('font-size', FONT)
  t.append('tspan').text('Freq (cm')
  t.append('tspan').attr('dy', -7).attr('font-size', 12).text('\u22121')
  t.append('tspan').attr('dy', 7).text(')')
}

function frame (top) {
  svg.append('rect').attr('x', left).attr('y', top).attr('width', right - left).attr('height', ph)
    .attr('fill', 'none').attr('stroke', '#000').attr('stroke-width', 1.3)
}

function title (top, txt) {
  svg.append('text').attr('x', (left + right) / 2).attr('y', top - 9)
    .attr('text-anchor', 'middle').attr('font-size', 21).style('white-space', 'pre').text(txt)
}

function spectrumPanel (top, name, txt, after, during, afterScatter, duringScatter, ree) {
  const y = d3.scaleLinear().domain([-1, 31]).range([top + ph, top])
  const p = d3.scaleLinear().domain([0, 1100]).range([top, top + ph])
  svg.append('clipPath').attr('id', 'clip-' + name)
    .append('rect').attr('x', left).attr('y', top).attr('width', right - left).attr('height', ph)
  const g = svg.append('g').attr('clip-path', `url(#clip-${name})`)

  // channel WF peaks
  g.append('g').selectAll('line').data(wfRuns).join('line')
    .attr('x1', d => xTop(d[0])).attr('x2', d => xTop(d[1]))
    .attr('y1', d => p(d[2])).attr('y2', d => p(d[2]))
    .attr('stroke', '#000').attr('stroke-width', 1).attr('stroke-dasharray', '1.5,0.6')
  g.append('g').selectAll('rect').data(wfPeak).join('rect')
    .attr('x', d => xTop(d[0]) - 0.6).attr('y', d => p(d[1]) - 0.6)
    .attr('width', 1.2).attr('height', 1.2).attr('fill', '#000')

  const afterPts = after.flatMap((vals, b) => toPairs(vals, bandStart[b])).concat(afterScatter)
  const duringPts = during.flatMap((vals, b) => toPairs(vals, bandStart[b])).concat(duringScatter)
  g.append('g').selectAll('circle').data(afterPts).join('circle')
    .attr('cx', d => xTop(d[0])).attr('cy', d => y(d[1])).attr('r', 1.6).attr('fill', '#00ff00')
  g.append('g').selectAll('circle').data(duringPts).join('circle')
    .attr('cx', d => xTop(d[0])).attr('cy', d => y(d[1])).attr('r', 1.6).attr('fill', '#ff0000')

  svg.append('path').datum(ree)
    .attr('d', d3.line().x(d => xTop(d[0])).y(d => y(d[1])))
    .attr('fill', 'none').attr('stroke', '#ff0000').attr('stroke-width', 1.2).attr('stroke-dasharray', '12,12')

  frame(top)
  xAxes(xTop, top, d3.range(700, 2550, 100))
  // left axis
  svg.append('g').attr('transform', `translate(${left},0)`)
    .call(d3.axisLeft(y).tickValues(d3.range(0, 31, 5 / 3)).tickSize(-8).tickFormat('')).call(styleAxis)
  svg.append('g').attr('transform', `translate(${left},0)`)
    .call(d3.axisLeft(y).tickValues([0, 5, 10, 15, 20, 25, 30]).tickSize(-9).tickPadding(5).tickFormat(d3.format('d'))).call(styleAxis)
  // right pressure axis
  svg.append('g').attr('transform', `translate(${right},0)`)
    .call(d3.axisRight(p).tickValues(pressureMinor).tickSize(-9).tickFormat('')).call(styleAxis)
  svg.append('g').attr('transform', `translate(${right},0)`)
    .call(d3.axisRight(p).tickValues([200, 400, 600, 800, 1000]).tickSize(-10).tickPadding(5).tickFormat(d3.format('d'))).call(styleAxis)

  svg.append('text').attr('transform', `translate(78,${top + ph / 2}) rotate(-90)`)
    .attr('text-anchor', 'middle').attr('font-size', FONT).text('Reconstruction Score (K)')
  svg.append('text').attr('transform', `translate(1085,${top + ph / 2}) rotate(-90)`)
    .attr('text-anchor', 'middle').attr('font-size', FONT).text('Pressure (hPa)')
  title(top, txt)
}

spectrumPanel(37.5, 'day', 'Amazon    Daytime PC50',
  [dayAfterLW, dayAfterMW, dayAfterSW], [dayDuringLW, dayDuringMW, dayDuringSW],
  dayAfterScatter, dayDuringScatter, dayREE)
spectrumPanel(259, 'night', 'Amazon    Nighttime PC50',
  [nightAfterLW, nightAfterMW, nightAfterSW], [nightDuringLW, nightDuringMW, nightDuringSW],
  nightAfterScatter, nightDuringScatter, nightREE)

// ---- legend for the two spectrum panels ----
const lg = svg.append('g')
const legRows = [
  {kind: 'dot', color: '#ff0000', main: 'RSC', sub: 'during fire', cy: 186.7, base: 192, subBase: 193.5},
  {kind: 'dot', color: '#00ff00', main: 'RSC', sub: 'after fire', cy: 204, base: 209.5, subBase: 211},
  {kind: 'dash', color: '#0000ff', main: 'REE', sub: 'before fire', cy: 220.7, base: 226, subBase: 230},
  {kind: 'dash', color: '#ff0000', main: 'REE', sub: 'during fire', cy: 238.3, base: 243.5, subBase: 247.5},
  {kind: 'dash', color: '#00ff00', main: 'REE', sub: 'after fire', cy: 256, base: 261, subBase: 265},
  {kind: 'dot', color: '#000000', main: 'Channel WF Peak', sub: '', cy: 279.3, base: 284.5, subBase: 284.5}
]
legRows.forEach(r => {
  if (r.kind === 'dot') {
    lg.append('circle').attr('cx', 1130).attr('cy', r.cy).attr('r', 5.5).attr('fill', r.color)
  } else {
    lg.append('line').attr('x1', 1117).attr('x2', 1144).attr('y1', r.cy).attr('y2', r.cy)
      .attr('stroke', r.color).attr('stroke-width', 1.3).attr('stroke-dasharray', '9,10')
  }
  lg.append('text').attr('x', 1155).attr('y', r.base).attr('font-size', FONT).text(r.main)
  if (r.sub) {
    lg.append('text').attr('x', 1196).attr('y', r.subBase).attr('font-size', 11).text(r.sub)
  }
})

// ---- absorption panel ----
const top3 = 480
const y3 = d3.scaleLog().domain([0.01, 10000]).range([top3 + ph, top3])
svg.append('clipPath').attr('id', 'clip-abs')
  .append('rect').attr('x', left).attr('y', top3 - 3).attr('width', right - left).attr('height', ph + 3)
const g3 = svg.append('g').attr('clip-path', 'url(#clip-abs)')
drawOrder.forEach(n => {
  const gas = gases.find(d => d.name === n)
  g3.append('g').selectAll('circle').data(gas.data).join('circle')
    .attr('cx', d => xBot(d[0])).attr('cy', d => y3(d[1])).attr('r', 2.2)
    .attr('fill', gas.color).attr('stroke', d3.color(gas.color).darker(0.6)).attr('stroke-width', 0.5)
})
frame(top3)
xAxes(xBot, top3, d3.range(700, 2600, 100))
const decades = [0.01, 0.1, 1, 10, 100, 1000, 10000]
const logMinor = decades.slice(0, -1).flatMap(d => [2, 3, 4, 5, 6, 7, 8, 9].map(m => m * d))
svg.append('g').attr('transform', `translate(${left},0)`)
  .call(d3.axisLeft(y3).tickValues(logMinor).tickSize(-6).tickFormat('')).call(styleAxis)
svg.append('g').attr('transform', `translate(${left},0)`)
  .call(d3.axisLeft(y3).tickValues(decades).tickSize(-10).tickPadding(9).tickFormat(d3.format('.2f'))).call(styleAxis)
  .call(g => g.selectAll('.tick text').attr('dy', d => d === 0.01 ? '0em' : d === 10000 ? '0.62em' : '0.32em'))
svg.append('g').attr('transform', `translate(${right},0)`)
  .call(d3.axisRight(y3).tickValues(logMinor).tickSize(-6).tickFormat('')).call(styleAxis)
svg.append('g').attr('transform', `translate(${right},0)`)
  .call(d3.axisRight(y3).tickValues(decades).tickSize(-10).tickFormat('')).call(styleAxis)
title(top3, 'CrIS Channel Absorption Contribution')
const ey = svg.append('text').attr('transform', `translate(25,${top3 + ph / 2}) rotate(-90)`)
  .attr('text-anchor', 'middle').attr('font-size', FONT)
ey.append('tspan').text('Equivalent Width (cm')
ey.append('tspan').attr('dy', -7).attr('font-size', 12).text('\u22121')
ey.append('tspan').attr('dy', 7).text(')')

// gas legend
gases.forEach((gas, i) => {
  const cy = 500.7 + i * 18.46
  svg.append('circle').attr('cx', 1127.3).attr('cy', cy).attr('r', 5)
    .attr('fill', 'none').attr('stroke', gas.color).attr('stroke-width', 2)
  const t = svg.append('text').attr('x', 1139).attr('y', cy + 5.5).attr('font-size', FONT)
  t.append('tspan').text(gas.parts[0])
  if (gas.parts[1]) t.append('tspan').attr('font-size', 11).attr('dy', 1).text(gas.parts[1])
  if (gas.parts[2]) t.append('tspan').attr('font-size', FONT).attr('dy', -1).text(gas.parts[2])
})
</script>
</body>
</html>
